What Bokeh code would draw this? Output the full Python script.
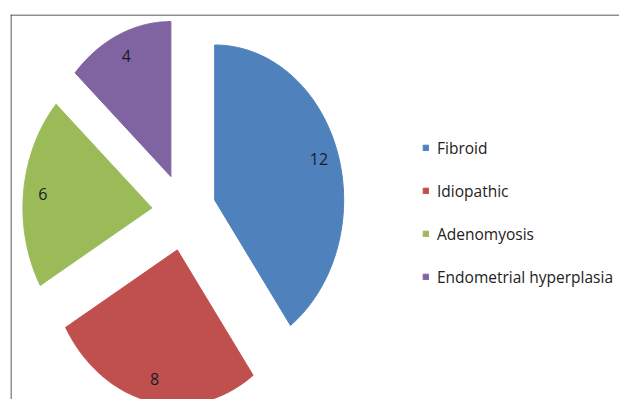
import numpy as np
from bokeh.plotting import figure
from bokeh.models import Range1d, Span, Legend, LegendItem, ColumnDataSource
from bokeh.core.properties import value
from bokeh.embed import file_html
from bokeh.resources import INLINE

# ---- data ----
categories = ["Fibroid", "Idiopathic", "Adenomyosis", "Endometrial hyperplasia"]
counts = [12, 8, 6, 4]
colors = ["#4F81BD", "#C0504D", "#9BBB59", "#8064A2"]

# ---- geometry (unit pie, clockwise from 12 o'clock) ----
explode = 0.25
label_r = 0.85
total = float(sum(counts))
cum = np.concatenate([[0.0], np.cumsum(counts)]) / total * 2 * np.pi

xs, ys, lx, ly = [], [], [], []
for i in range(len(counts)):
    a0, a1 = cum[i], cum[i + 1]
    mid = 0.5 * (a0 + a1)
    ox, oy = explode * np.sin(mid), explode * np.cos(mid)
    t = np.linspace(a0, a1, 120)
    px = np.concatenate([[ox], ox + np.sin(t)])
    py = np.concatenate([[oy], oy + np.cos(t)])
    xs.append(px.tolist())
    ys.append(py.tolist())
    lx.append(ox + label_r * np.sin(mid))
    ly.append(oy + label_r * np.cos(mid))

src = ColumnDataSource(dict(xs=xs, ys=ys, color=colors, cat=categories))
lab = ColumnDataSource(dict(x=lx, y=ly, t=[str(c) for c in counts]))

x0, x1 = -1.345, 3.376
y0, y1 = -1.2097, 1.274
p = figure(width=619, height=399, output_backend="svg", toolbar_location=None,
           x_range=Range1d(x0, x1), y_range=Range1d(y0, y1),
           min_border_left=10, min_border_top=14, min_border_right=0, min_border_bottom=0)
p.axis.visible = False
p.grid.visible = False
p.outline_line_color = None
p.background_fill_color = "white"
p.border_fill_color = "white"

r = p.patches("xs", "ys", source=src, fill_color="color", line_color="color", line_width=1)
p.text("x", "y", text="t", source=lab, text_align="center", text_baseline="middle",
       text_font=value("Open Sans"), text_font_size="16px", text_color="#1a1a2a")

# chart border (top and left visible)
p.add_layout(Span(location=x0 + 0.5 / 129, dimension="height", line_color="#222222", line_width=1))
p.add_layout(Span(location=y1 - 0.5 / 155, dimension="width", line_color="#222222", line_width=1))

items = [LegendItem(label=categories[i], renderers=[r], index=i) for i in range(len(categories))]
leg = Legend(items=items, location=(412, 111), orientation="vertical",
             glyph_width=7, glyph_height=7, label_standoff=8, label_height=23, spacing=20,
             padding=0, margin=0, border_line_color=None, background_fill_alpha=0,
             label_text_font="Open Sans", label_text_font_size="15.5px", label_text_color="#222222")
p.add_layout(leg)

open("out.html", "w").write(file_html(p, INLINE))
